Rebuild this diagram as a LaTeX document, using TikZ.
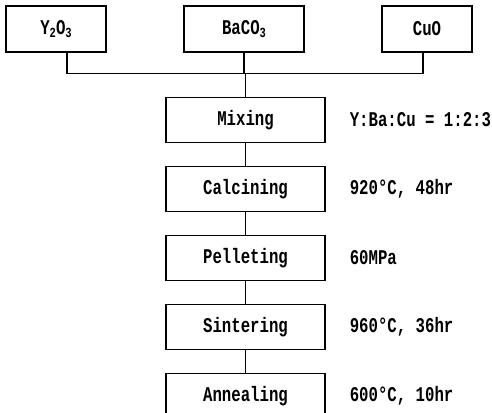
\documentclass[tikz,border=0pt]{standalone}
\usepackage{fontspec}
\setmonofont[FakeStretch=0.75]{Liberation Mono}
\usepackage{tikz}
\usetikzlibrary{positioning}
\newcommand{\lowsub}[1]{\raisebox{-0.25ex}{\fontsize{14}{14}\selectfont #1}}

\begin{document}
\begin{tikzpicture}[x=1bp, y=1bp, node distance=22.5bp, line width=1.5bp,
  font=\ttfamily\bfseries\fontsize{21}{21}\selectfont,
  stepbox/.style={draw, rectangle, inner sep=0pt, minimum width=159bp, minimum height=45bp},
  rawbox/.style={draw, rectangle, inner sep=0pt, minimum height=46bp}]
\useasboundingbox (0,0) rectangle (492,412);
% raw powders
\node[rawbox, minimum width=100bp] (yox) at (56,383) {Y\lowsub{2}O\lowsub{3}};
\node[rawbox, minimum width=120bp] (baco) at (244,383) {BaCO\lowsub{3}};
\node[rawbox, minimum width=90bp] (cuo) at (427,383) {CuO};
% process steps
\node[stepbox] (mixing) at (245.5,292) {Mixing};
\node[stepbox, below=of mixing] (calcining) {Calcining};
\node[stepbox, below=of calcining] (pelleting) {Pelleting};
\node[stepbox, below=of pelleting] (sintering) {Sintering};
\node[stepbox, below=of sintering] (annealing) {Annealing};
% conditions
\node[right=20bp of mixing] (ratio) {Y:Ba:Cu = 1:2:3};
\node[right=20bp of calcining] (calcT) {920°C, 48hr};
\node[right=20bp of pelleting] (press) {60MPa};
\node[right=20bp of sintering] (sinterT) {960°C, 36hr};
\node[right=20bp of annealing] (annealT) {600°C, 10hr};
% connectors
\coordinate (bus) at (mixing.north |- 0,338.5);
\draw ([xshift=11bp]yox.south) |- (bus) -| ([xshift=-4bp]cuo.south);
\draw (baco.south) -- (baco.south |- bus);
\draw (bus) -- (mixing);
\draw (mixing) -- (calcining);
\draw (calcining) -- (pelleting);
\draw (pelleting) -- (sintering);
\draw (sintering) -- (annealing);
\end{tikzpicture}
\end{document}
